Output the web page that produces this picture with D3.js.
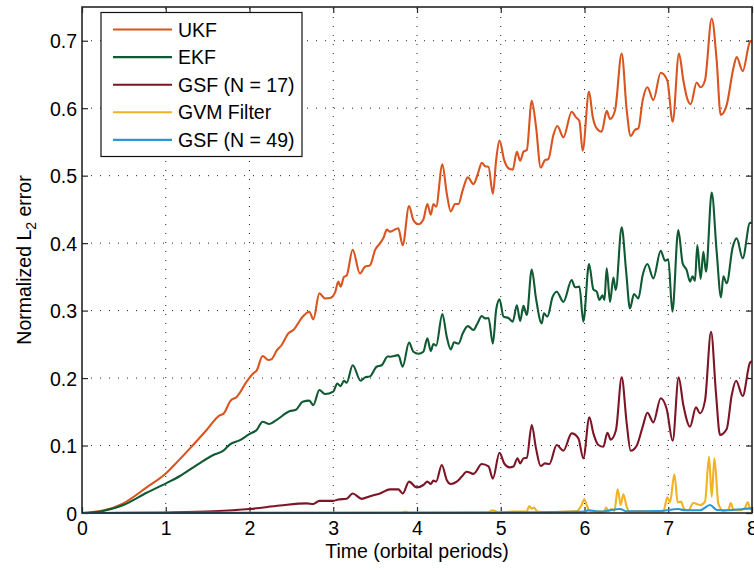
<!DOCTYPE html>
<html><head><meta charset="utf-8">
<script src="https://cdn.jsdelivr.net/npm/d3@7"></script>
<style>html,body{margin:0;padding:0;background:#fff;}svg{display:block;font-family:"Liberation Sans",Arial,Helvetica,sans-serif;}</style>
</head><body>
<svg id="chart" width="754" height="570"></svg>
<script>
const seriesNames = ["UKF", "EKF", "GSF (N = 17)", "GVM Filter", "GSF (N = 49)"];
const seriesColors = ["#d9541e", "#0f5a32", "#7d1526", "#f0b323", "#2b98d6"];
const xTicks = [0,1,2,3,4,5,6,7,8];
const yTicks = [0,0.1,0.2,0.3,0.4,0.5,0.6,0.7];
const yTickLabels = ["0","0.1","0.2","0.3","0.4","0.5","0.6","0.7"];

const ukfT = [0,0.25,0.494,0.772,1.003,1.09,1.289,1.488,1.648,1.688,1.775,1.847,1.966,2.046,2.085,2.157,2.225,2.264,2.324,2.384,2.464,2.523,2.635,2.714,2.762,2.834,2.901,2.961,3.021,3.06,3.088,3.128,3.16,3.232,3.319,3.379,3.439,3.5,3.56,3.6,3.64,3.678,3.777,3.829,3.905,3.957,4.017,4.076,4.124,4.164,4.196,4.228,4.303,4.355,4.403,4.455,4.495,4.547,4.607,4.674,4.722,4.774,4.814,4.854,4.906,4.945,4.985,5.041,5.092,5.144,5.192,5.232,5.271,5.311,5.37,5.421,5.477,5.528,5.568,5.628,5.676,5.748,5.847,5.899,5.939,5.978,6.054,6.098,6.146,6.205,6.265,6.305,6.365,6.444,6.504,6.551,6.603,6.643,6.695,6.751,6.822,6.91,6.989,7.053,7.128,7.18,7.22,7.268,7.339,7.387,7.439,7.519,7.578,7.626,7.698,7.777,7.817,7.889,7.976,8.0];
const ukfV = [0,0.0035,0.0143,0.038,0.0588,0.0697,0.0958,0.123,0.145,0.147,0.1665,0.172,0.1946,0.207,0.211,0.2327,0.2268,0.228,0.2406,0.249,0.2663,0.2712,0.291,0.2984,0.287,0.3256,0.318,0.3186,0.3266,0.343,0.3355,0.35,0.352,0.39,0.355,0.365,0.367,0.39,0.4,0.408,0.42,0.417,0.422,0.397,0.455,0.434,0.428,0.435,0.458,0.442,0.458,0.454,0.517,0.474,0.447,0.458,0.458,0.479,0.4975,0.4876,0.501,0.519,0.514,0.513,0.473,0.523,0.552,0.523,0.511,0.509,0.5355,0.522,0.5355,0.538,0.611,0.5726,0.512,0.523,0.5245,0.56,0.5736,0.5568,0.5948,0.5865,0.581,0.537,0.6245,0.5874,0.57,0.565,0.596,0.584,0.597,0.681,0.597,0.559,0.568,0.57,0.612,0.631,0.612,0.6526,0.641,0.58,0.681,0.6415,0.617,0.606,0.638,0.631,0.6415,0.733,0.671,0.59,0.605,0.659,0.676,0.655,0.6986,0.7];

const ekfT = [0,0.25,0.494,0.772,1.003,1.17,1.369,1.568,1.688,1.767,1.887,1.998,2.085,2.157,2.237,2.324,2.476,2.555,2.635,2.714,2.762,2.834,2.901,3.0,3.048,3.088,3.128,3.16,3.232,3.327,3.379,3.439,3.518,3.578,3.65,3.678,3.777,3.829,3.905,3.957,4.017,4.076,4.124,4.164,4.196,4.228,4.303,4.355,4.403,4.443,4.495,4.547,4.607,4.674,4.722,4.774,4.814,4.854,4.906,4.945,4.985,5.033,5.092,5.144,5.192,5.232,5.271,5.311,5.37,5.421,5.489,5.516,5.556,5.62,5.668,5.748,5.847,5.887,5.939,5.986,6.054,6.106,6.146,6.178,6.214,6.238,6.265,6.305,6.345,6.373,6.444,6.496,6.543,6.591,6.643,6.695,6.751,6.822,6.91,6.962,7.001,7.049,7.12,7.172,7.22,7.26,7.291,7.319,7.347,7.387,7.419,7.451,7.519,7.578,7.63,7.658,7.698,7.769,7.817,7.889,7.976,8.0];
const ekfV = [0,0.003,0.0119,0.03,0.044,0.0548,0.071,0.086,0.0924,0.1018,0.108,0.117,0.123,0.1353,0.132,0.138,0.1507,0.153,0.165,0.1665,0.16,0.1823,0.1764,0.18,0.192,0.188,0.196,0.193,0.219,0.196,0.201,0.2025,0.2168,0.219,0.232,0.2317,0.234,0.2169,0.2525,0.239,0.236,0.239,0.259,0.24,0.2505,0.248,0.295,0.2613,0.2426,0.253,0.251,0.2663,0.277,0.2713,0.281,0.292,0.2885,0.289,0.251,0.301,0.3167,0.291,0.289,0.2836,0.308,0.2846,0.307,0.2935,0.361,0.318,0.281,0.296,0.291,0.3206,0.328,0.313,0.3453,0.3345,0.3355,0.2836,0.369,0.3315,0.328,0.3157,0.3225,0.3157,0.3627,0.313,0.349,0.3305,0.4234,0.36,0.3033,0.3246,0.318,0.3527,0.369,0.3478,0.3888,0.374,0.376,0.2984,0.4195,0.37,0.36,0.343,0.351,0.344,0.397,0.347,0.387,0.3575,0.4748,0.3875,0.3196,0.351,0.3404,0.3937,0.407,0.3774,0.43,0.43];

const gsf17T = [0,0.5,1.0,1.568,1.998,2.364,2.682,2.762,2.834,3.0,3.06,3.16,3.232,3.339,3.439,3.558,3.678,3.777,3.829,3.905,3.996,4.076,4.124,4.164,4.196,4.228,4.296,4.355,4.403,4.475,4.535,4.594,4.674,4.774,4.854,4.906,4.985,5.041,5.104,5.152,5.2,5.232,5.271,5.311,5.37,5.421,5.477,5.528,5.58,5.668,5.748,5.847,5.927,5.986,6.058,6.106,6.166,6.225,6.273,6.313,6.376,6.444,6.504,6.551,6.623,6.695,6.751,6.822,6.91,6.982,7.053,7.124,7.18,7.26,7.331,7.379,7.439,7.511,7.57,7.618,7.698,7.758,7.81,7.889,7.976,8.0];
const gsf17V = [0,0.0002,0.0008,0.0025,0.0059,0.011,0.0143,0.0133,0.018,0.018,0.02,0.0212,0.029,0.021,0.025,0.029,0.035,0.035,0.029,0.0465,0.038,0.0415,0.0465,0.043,0.048,0.0465,0.0711,0.049,0.043,0.0465,0.054,0.0612,0.058,0.0726,0.069,0.051,0.0894,0.0736,0.0677,0.069,0.081,0.0736,0.081,0.082,0.1304,0.0958,0.0697,0.0736,0.0726,0.1008,0.0924,0.118,0.1107,0.081,0.1418,0.118,0.1008,0.0983,0.119,0.1088,0.123,0.201,0.133,0.0924,0.0998,0.128,0.1487,0.1344,0.17,0.1537,0.107,0.201,0.16,0.128,0.1566,0.1477,0.1665,0.2687,0.1774,0.1156,0.1245,0.1749,0.196,0.1735,0.2228,0.225];

const gvmT = [0,3.8,3.86,3.92,4.85,4.9,4.95,5.0,5.15,5.31,5.34,5.37,5.397,5.437,5.55,5.79,5.91,5.966,5.998,6.026,6.066,6.233,6.257,6.285,6.325,6.357,6.396,6.432,6.464,6.504,6.543,6.663,6.822,6.941,6.989,7.021,7.073,7.113,7.153,7.189,7.24,7.3,7.38,7.439,7.487,7.519,7.551,7.598,7.658,7.718,7.746,7.778,7.857,7.917,7.949,7.985,8.0];
const gvmV = [0,0.0005,0.002,0.0005,0.001,0.004,0.002,0.001,0.002,0.002,0.0104,0.0064,0.008,0.002,0.001,0.002,0.003,0.0119,0.0203,0.0119,0.002,0.002,0.008,0.003,0.006,0.003,0.035,0.0119,0.0277,0.009,0.002,0.003,0.002,0.002,0.0233,0.0158,0.0573,0.0158,0.0168,0.006,0.004,0.0148,0.0119,0.017,0.0834,0.024,0.081,0.0138,0.003,0.005,0.0148,0.005,0.004,0.008,0.0158,0.005,0.006];

const gsf49T = [0,5.0,5.5,6.0,6.045,6.2,6.424,6.5,6.9,7.12,7.2,7.38,7.5,7.58,7.7,7.9,8.0];
const gsf49V = [0,0.0008,0.0012,0.002,0.004,0.002,0.006,0.0025,0.003,0.006,0.004,0.004,0.0119,0.0045,0.004,0.006,0.007];

const allT = [ukfT, ekfT, gsf17T, gvmT, gsf49T];
const allV = [ukfV, ekfV, gsf17V, gvmV, gsf49V];

const L = 82, R = 752, T = 7, B = 513;
const fs = 19.5;
const svg = d3.select("#chart");
const x = d3.scaleLinear().domain([0,8]).range([L,R]);
const y = d3.scaleLinear().domain([0,0.75]).range([B,T]);

// grid
const grid = svg.append("g");
grid.selectAll("line.vg").data(xTicks.slice(1,-1)).join("line")
  .attr("x1", d=>x(d)).attr("x2", d=>x(d)).attr("y1", B).attr("y2", T)
  .attr("stroke", "#222").attr("stroke-width", 1).attr("stroke-dasharray", "1,8");
grid.selectAll("line.hg").data(yTicks.slice(1)).join("line")
  .attr("x1", L).attr("x2", R).attr("y1", d=>y(d)).attr("y2", d=>y(d))
  .attr("stroke", "#222").attr("stroke-width", 1).attr("stroke-dasharray", "1,8");

// axes with inward ticks
const tickLen = 6;
const xAxisB = d3.axisBottom(x).tickValues(xTicks).tickSize(-tickLen).tickPadding(8).tickFormat(d3.format("d"));
const gxb = svg.append("g").attr("transform", `translate(0,${B})`).call(xAxisB);
const xAxisT = d3.axisTop(x).tickValues(xTicks).tickSize(-tickLen).tickFormat("");
const gxt = svg.append("g").attr("transform", `translate(0,${T})`).call(xAxisT);
const yAxisL = d3.axisLeft(y).tickValues(yTicks).tickSize(-tickLen).tickPadding(5).tickFormat((d,i)=>yTickLabels[i]);
const gyl = svg.append("g").attr("transform", `translate(${L},0)`).call(yAxisL);
const yAxisR = d3.axisRight(y).tickValues(yTicks).tickSize(-tickLen).tickFormat("");
const gyr = svg.append("g").attr("transform", `translate(${R},0)`).call(yAxisR);
[gxb,gxt,gyl,gyr].forEach(g=>{
  g.select(".domain").remove();
  g.selectAll(".tick line").attr("stroke","#262626").attr("stroke-width",1.2);
  g.selectAll("text").attr("font-size", fs).attr("fill","#000").attr("font-family",'"Liberation Sans",Arial,sans-serif');
});
gyl.selectAll("text").attr("dy","0.36em");

// clip
svg.append("clipPath").attr("id","clip").append("rect").attr("x",L).attr("y",T).attr("width",R-L).attr("height",B-T+1);

// lines
const line = d3.line().x(d=>x(d[0])).y(d=>y(d[1])).curve(d3.curveMonotoneX);
const lg = svg.append("g").attr("clip-path","url(#clip)");
allT.forEach((ts,i)=>{
  const pts = ts.map((t,j)=>[t, allV[i][j]]);
  lg.append("path").datum(pts).attr("d", line).attr("fill","none")
    .attr("stroke", seriesColors[i]).attr("stroke-width", 2.1).attr("stroke-linejoin","round");
});

// box
svg.append("rect").attr("x",L).attr("y",T).attr("width",R-L).attr("height",B-T)
  .attr("fill","none").attr("stroke","#262626").attr("stroke-width",1.6);

// axis labels
svg.append("text").attr("x", (L+R)/2).attr("y", 558).attr("text-anchor","middle")
  .attr("font-size", fs).text("Time (orbital periods)");
const yl = svg.append("text").attr("transform", `translate(31,${(T+B)/2}) rotate(-90)`)
  .attr("text-anchor","middle").attr("font-size", fs);
yl.append("tspan").text("Normalized L");
yl.append("tspan").attr("font-size", fs*0.72).attr("dy", 5).text("2");
yl.append("tspan").attr("dy", -5).text(" error");

// legend
const leg = svg.append("g");
leg.append("rect").attr("x",101).attr("y",12.5).attr("width",201).attr("height",144)
  .attr("fill","#fff").attr("stroke","#111").attr("stroke-width",1.2);
seriesNames.forEach((n,i)=>{
  const yy = 29.5 + i*27.6;
  leg.append("line").attr("x1",113).attr("x2",172).attr("y1",yy).attr("y2",yy)
    .attr("stroke", seriesColors[i]).attr("stroke-width",2.1);
  leg.append("text").attr("x",178).attr("y",yy).attr("dy","0.36em").attr("font-size",fs).text(n);
});
</script>
</body></html>
